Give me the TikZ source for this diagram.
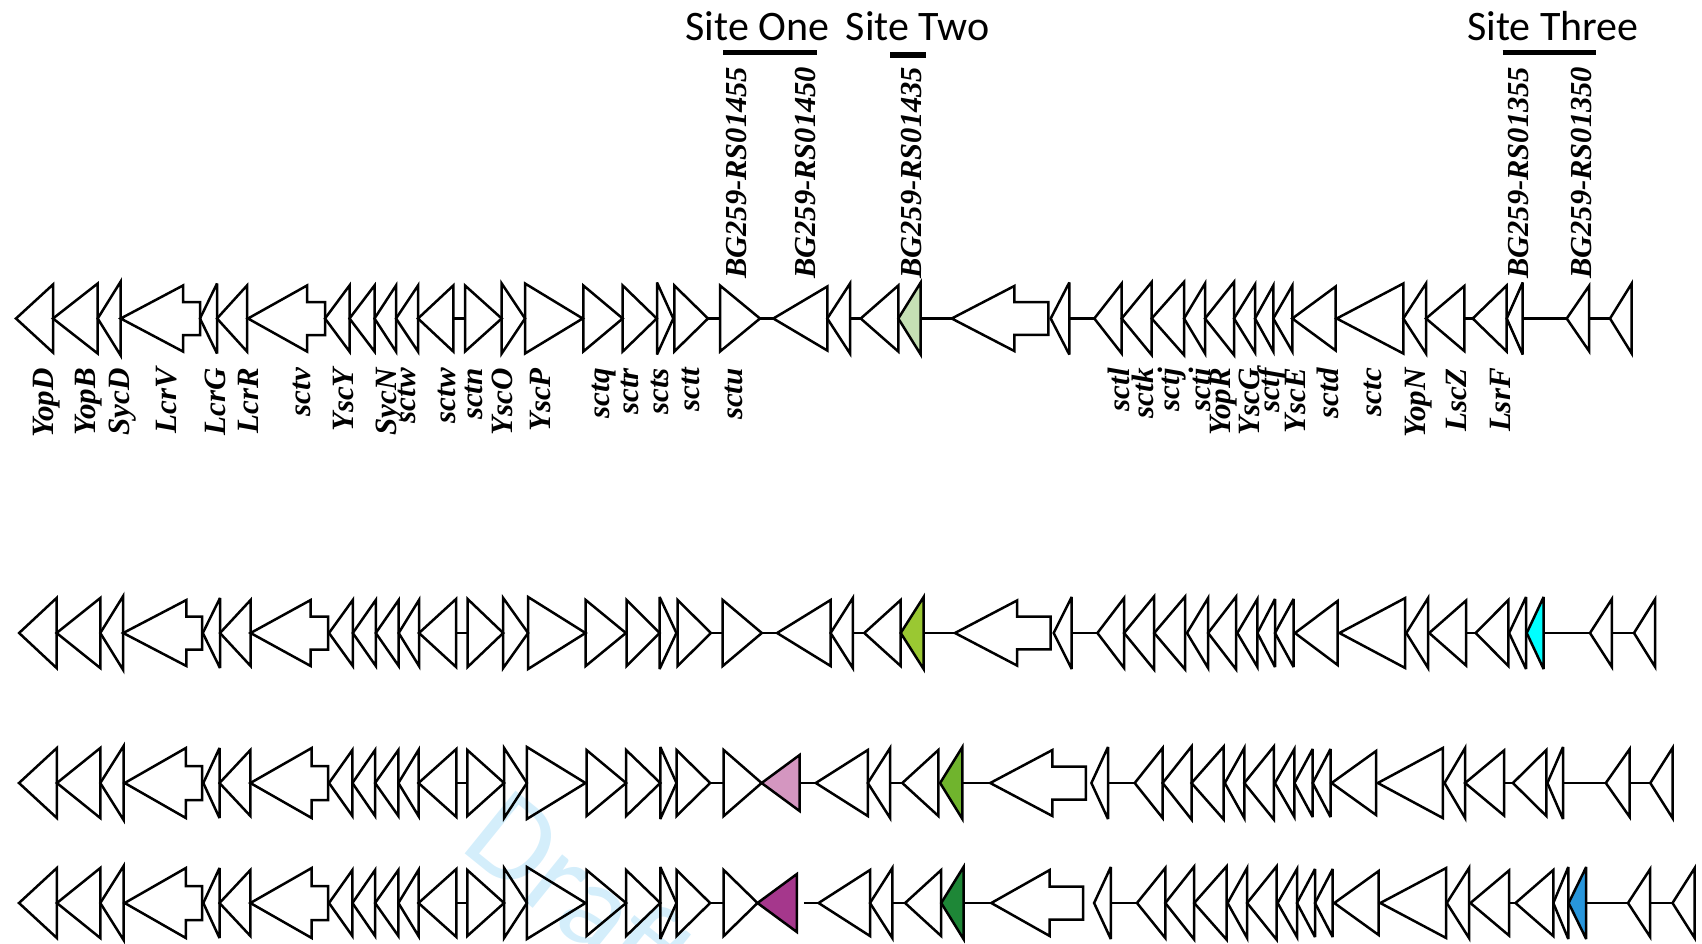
\documentclass[tikz,border=0pt]{standalone}
\usepackage{fontspec}
\setmainfont{Liberation Serif}
\newfontfamily\sitefont{Carlito}
\definecolor{gA}{RGB}{197,224,180}
\definecolor{gB}{RGB}{154,200,50}
\definecolor{cyC}{RGB}{0,255,255}
\definecolor{pkC}{RGB}{212,150,192}
\definecolor{gC}{RGB}{112,180,45}
\definecolor{mgC}{RGB}{165,55,140}
\definecolor{gD}{RGB}{30,135,55}
\definecolor{blC}{RGB}{40,150,220}
\definecolor{wmC}{RGB}{212,238,251}
\newcommand\rowy{0}
\newcommand\geneL[4][none]{\draw[gene,fill=#1] (#2,\rowy) -- (#3,\rowy-#4) -- (#3,\rowy+#4) -- cycle;}
\newcommand\geneR[4][none]{\draw[gene,fill=#1] (#3,\rowy) -- (#2,\rowy-#4) -- (#2,\rowy+#4) -- cycle;}
\newcommand\geneA[5]{\draw[gene] (#1,\rowy) -- (#2,\rowy-#4) -- (#2,\rowy-#5) -- (#3,\rowy-#5) -- (#3,\rowy+#5) -- (#2,\rowy+#5) -- (#2,\rowy+#4) -- cycle;}
\newcommand\geneI[2]{\draw[gene] (#1,\rowy) -- (#2,\rowy);}
\tikzset{
  gene/.style={line width=2.5pt, line join=miter, miter limit=4, draw=black},
  lab/.style={rotate=90, anchor=east, inner sep=0pt, font=\fontsize{31}{33}\selectfont\bfseries\itshape},
  toplab/.style={rotate=90, anchor=west, inner sep=0pt, font=\fontsize{30.5}{32}\selectfont\bfseries\itshape},
  site/.style={anchor=base, inner sep=0pt, font=\sitefont\fontsize{42}{44}\selectfont},
  sitebar/.style={line width=5.5pt},
  wmk/.style={rotate=-39, anchor=base west, inner sep=0pt, text=wmC, font=\sitefont\fontsize{126}{126}\selectfont}
}
\begin{document}
\begin{tikzpicture}[x=1pt,y=-1pt]
\useasboundingbox (0,0) rectangle (1702,943);
% watermark
\node[wmk] (wmark) at (458,848) {Draft};
% site headers
\node[site] (s1) at (757.5,40) {Site One};
\node[site] (s2) at (917.5,40) {Site Two};
\node[site] (s3) at (1552.8,40) {Site Three};
\coordinate (b1a) at (723.3,52.5); \coordinate (b1b) at (816.7,52.5);
\coordinate (b2a) at (890,55); \coordinate (b2b) at (926,55);
\coordinate (b3a) at (1502.7,52.5); \coordinate (b3b) at (1596,52.5);
\draw[sitebar] (b1a) -- (b1b);
\draw[sitebar] (b2a) -- (b2b);
\draw[sitebar] (b3a) -- (b3b);
% top labels
\node[toplab] (t1) at (736.7,279) {BG259-RS01455};
\node[toplab] (t2) at (805,279) {BG259-RS01450};
\node[toplab] (t3) at (911.7,279) {BG259-RS01435};
\node[toplab] (t4) at (1518.3,279) {BG259-RS01355};
\node[toplab] (t5) at (1581.7,279) {BG259-RS01350};
% ---------------- row 1
\renewcommand\rowy{318.5}
\geneL{16}{53}{34}
\geneL{53}{97.7}{35}
\geneL{97.7}{120.7}{37}
\geneA{120.7}{183}{200}{33}{16.5}
\geneL{200}{217}{35}
\geneL{217}{247}{33}
\geneA{248}{307}{325}{33}{16.5}
\geneL{325}{349.5}{33}
\geneL{349.5}{374.5}{33}
\geneL{374.5}{396}{33}
\geneL{396}{418}{33}
\geneL{418}{453.3}{33}
\geneI{453.3}{465}
\geneR{465}{501.7}{33}
\geneR{501.7}{525}{35}
\geneR{525}{582.7}{35}
\geneR{583.3}{622.7}{33}
\geneR{622.7}{656.7}{33}
\geneR{657}{673.3}{36}
\geneR{674.3}{708}{33}
\geneI{708}{720}
\geneR{720}{760}{33}
\geneI{760}{773.3}
\geneL{773.3}{827.3}{32}
\geneL{827.3}{850}{35}
\geneI{850}{860.7}
\geneL{860.7}{898.3}{33}
\geneL[gA]{898.3}{920.7}{36}
\geneI{920.7}{951.7}
\geneA{951.7}{1014.3}{1048.3}{32.5}{16.3}
\geneL{1050.7}{1069.3}{36}
\geneI{1069.3}{1094.3}
\geneL{1094.3}{1121.7}{35}
\geneL{1121.7}{1151.7}{36.5}
\geneL{1151.7}{1184}{36.5}
\geneL{1184}{1205}{35}
\geneL{1205}{1234}{36.5}
\geneL{1234}{1255}{34}
\geneL{1255}{1273.3}{33}
\geneL{1273.3}{1292.3}{33}
\geneL{1292.3}{1335.7}{32}
\geneL{1336.7}{1403.3}{35}
\geneL{1403.3}{1426}{35}
\geneL{1426}{1464.3}{32.5}
\geneI{1464.3}{1472.7}
\geneL{1472.7}{1506.7}{33}
\geneL{1506.7}{1522.7}{36}
\geneI{1522.7}{1566.7}
\geneL{1566.7}{1589}{32.5}
\geneI{1589}{1610}
\geneL{1610}{1631.7}{35}
% row 1 labels
\node[lab] (n1) at (46.7,368) {YopD};
\node[lab] (n2) at (88.3,368) {YopB};
\node[lab] (n3) at (122.5,368) {SycD};
\node[lab] (n4) at (166.7,368) {LcrV};
\node[lab] (n5) at (215.8,368) {LcrG};
\node[lab] (n6) at (248.3,368) {LcrR};
\node[lab] (n7) at (301.7,368) {sctv};
\node[lab] (n8) at (343.3,368) {YscY};
\node[lab] (n9) at (390,368) {SycN};
\node[lab] (n10) at (406.7,368) {sctw};
\node[lab] (n11) at (447,368) {sctw};
\node[lab] (n12) at (474,368) {sctn};
\node[lab] (n13) at (502.5,368) {YscO};
\node[lab] (n14) at (540.8,368) {YscP};
\node[lab] (n15) at (604,368) {sctq};
\node[lab] (n16) at (630,368) {sctr};
\node[lab] (n17) at (660,368) {scts};
\node[lab] (n18) at (690.7,368) {sctt};
\node[lab] (n19) at (734,368) {sctu};
\node[lab] (n20) at (1119,368) {sctl};
\node[lab] (n21) at (1143.3,368) {sctk};
\node[lab] (n22) at (1171.7,368) {sctj};
\node[lab] (n23) at (1200,368) {scti};
\node[lab] (n24) at (1223.3,368) {YopR};
\node[lab] (n25) at (1249,368) {YscG};
\node[lab] (n26) at (1271.7,368) {sctf};
\node[lab] (n27) at (1295,368) {YscE};
\node[lab] (n28) at (1328,368) {sctd};
\node[lab] (n29) at (1373.3,368) {sctc};
\node[lab] (n30) at (1418.3,368) {YopN};
\node[lab] (n31) at (1456.7,368) {LscZ};
\node[lab] (n32) at (1500,368) {LsrF};
% ---------------- row 2
\renewcommand\rowy{633}
\geneL{19.1}{56.6}{35}
\geneL{56.6}{100.3}{35}
\geneL{100.3}{123.2}{37}
\geneA{123.2}{186.4}{202}{33}{16.5}
\geneL{202.8}{220}{35}
\geneL{220}{250.6}{33}
\geneA{250.6}{310.7}{328}{33}{16.5}
\geneL{329}{352.8}{33}
\geneL{352.8}{375.8}{33}
\geneL{375.8}{398.7}{33}
\geneL{398.7}{419}{33}
\geneL{419}{456.1}{34}
\geneI{456.1}{467.6}
\geneR{467.6}{503.2}{34}
\geneR{503.2}{528.1}{35}
\geneR{528.1}{585.5}{36}
\geneR{585.7}{625.9}{33}
\geneR{626.7}{659.6}{33}
\geneR{659.6}{676.4}{36}
\geneR{677.6}{710.9}{33}
\geneI{710.9}{722.7}
\geneR{722.7}{761.8}{33}
\geneI{761.8}{777.1}
\geneL{777.1}{830.6}{33}
\geneL{830.6}{852.8}{35}
\geneI{852.8}{864.3}
\geneL{864.3}{900.7}{33}
\geneL[gB]{900.7}{923.6}{36}
\geneI{923.6}{955}
\geneA{955}{1017}{1050.7}{32.5}{16.3}
\geneL{1053.7}{1071.7}{36}
\geneI{1071.7}{1097.4}
\geneL{1097.4}{1124.1}{35}
\geneL{1124.1}{1154}{36.5}
\geneL{1154.2}{1185.2}{36.5}
\geneL{1187}{1208.1}{35}
\geneL{1208.1}{1236.2}{36.5}
\geneL{1237.3}{1257.4}{34}
\geneL{1257.4}{1275}{34}
\geneL{1275}{1293.6}{34}
\geneL{1295}{1337.6}{32}
\geneL{1339.4}{1405.2}{35}
\geneL{1406.3}{1428.1}{35}
\geneL{1429.2}{1466.1}{32.5}
\geneI{1466.1}{1475.6}
\geneL{1475.6}{1508.4}{33}
\geneL{1509.1}{1526}{36}
\geneL[cyC]{1526.7}{1543.6}{36}
\geneI{1543.6}{1590}
\geneL{1590}{1611.9}{34}
\geneI{1611.9}{1634}
\geneL{1634}{1655.2}{34}
% ---------------- row 3
\renewcommand\rowy{783}
\geneL{19}{56.9}{35}
\geneL{56.9}{100.3}{35}
\geneL{100.3}{123.6}{37}
\geneA{124.7}{185.9}{202.2}{35}{17}
\geneL{203.3}{219.5}{35}
\geneL{219.5}{250.4}{33}
\geneA{250.4}{311.7}{328}{35}{17}
\geneL{329}{352.4}{33}
\geneL{352.4}{375.1}{33}
\geneL{375.1}{398.4}{33}
\geneL{398.4}{418.5}{33}
\geneL{418.5}{456.4}{34}
\geneI{456.4}{467.3}
\geneR{467.3}{504.1}{33}
\geneR{504.1}{526.9}{35}
\geneR{526.9}{585.5}{36}
\geneR{586.5}{626.1}{33}
\geneR{626.1}{660.3}{33}
\geneR{660.3}{676.5}{36}
\geneR{676.5}{710.1}{33}
\geneI{710.1}{723.7}
\geneR{723.7}{761.6}{33}
\geneL[pkC]{761.6}{799.6}{28}
\geneI{799.6}{815.8}
\geneL{815.8}{867.8}{33}
\geneL{867.8}{890.1}{35}
\geneI{890.1}{902.3}
\geneL{902.3}{938.4}{33}
\geneL[gC]{940.1}{962.4}{36}
\geneI{962.4}{990.2}
\geneA{990.2}{1052.4}{1085.8}{33}{16.5}
\geneL{1091.4}{1108}{36}
\geneI{1108}{1134.7}
\geneL{1134.7}{1162.6}{35}
\geneL{1162.6}{1191.5}{36.5}
\geneL{1191.5}{1223.7}{36.5}
\geneL{1224.8}{1244.3}{35}
\geneL{1244.3}{1273.8}{36.5}
\geneL{1274.9}{1294.4}{34}
\geneL{1294.4}{1312.7}{34}
\geneL{1312.7}{1330.5}{34}
\geneL{1331.6}{1376.1}{32}
\geneL{1377.8}{1442.8}{35}
\geneL{1444.5}{1465.1}{35}
\geneL{1465.1}{1504}{32.5}
\geneI{1504}{1512.9}
\geneL{1512.9}{1546.3}{33}
\geneL{1547.4}{1563}{36}
\geneI{1563}{1605.8}
\geneL{1605.8}{1629.7}{34}
\geneI{1629.7}{1650.3}
\geneL{1650.3}{1672.5}{35}
% ---------------- row 4
\renewcommand\rowy{903}
\geneL{19}{56.9}{35}
\geneL{56.9}{100.3}{35}
\geneL{100.3}{123.6}{37}
\geneA{124.7}{185.9}{202.2}{35}{17}
\geneL{203.3}{219.5}{35}
\geneL{219.5}{250.4}{33}
\geneA{250.4}{311.7}{328}{35}{17}
\geneL{329}{352.4}{33}
\geneL{352.4}{375.1}{33}
\geneL{375.1}{398.4}{33}
\geneL{398.4}{418.5}{33}
\geneL{418.5}{456.4}{34}
\geneI{456.4}{467.3}
\geneR{467.3}{504.1}{33}
\geneR{504.1}{526.9}{35}
\geneR{526.9}{585.5}{36}
\geneR{586.5}{626.1}{33}
\geneR{626.1}{660.3}{33}
\geneR{660.3}{676.5}{36}
\geneR{676.5}{710.1}{33}
\geneI{710.1}{723.7}
\geneR{723.7}{757.5}{33}
\geneL[mgC]{757.5}{796.9}{29}
\geneI{803.9}{818.6}
\geneL{818.6}{870}{33}
\geneL{870}{892.3}{35}
\geneI{892.3}{905.1}
\geneL{905.1}{941.2}{33}
\geneL[gD]{941.2}{963.5}{36}
\geneI{963.5}{990.2}
\geneA{991.3}{1049.7}{1083}{33}{16.5}
\geneL{1094.1}{1110.8}{36}
\geneI{1110.8}{1137}
\geneL{1137}{1165.3}{35}
\geneL{1165.3}{1194.2}{36.5}
\geneL{1194.2}{1226.5}{36.5}
\geneL{1227.6}{1247.1}{35}
\geneL{1247.1}{1276.5}{36.5}
\geneL{1277.6}{1297}{34}
\geneL{1297}{1315}{34}
\geneL{1315}{1332.7}{34}
\geneL{1334.3}{1378.7}{32}
\geneL{1380.3}{1446.2}{35}
\geneL{1446.8}{1469}{35}
\geneL{1470.4}{1509}{32.5}
\geneI{1509}{1515.5}
\geneL{1515.5}{1553.3}{33}
\geneL{1553.3}{1568.3}{36}
\geneL[blC]{1568.6}{1586.2}{36}
\geneI{1586.2}{1628}
\geneL{1628}{1650.2}{34}
\geneI{1650.2}{1672.5}
\geneL{1672.5}{1694.7}{35}
\end{tikzpicture}
\end{document}
